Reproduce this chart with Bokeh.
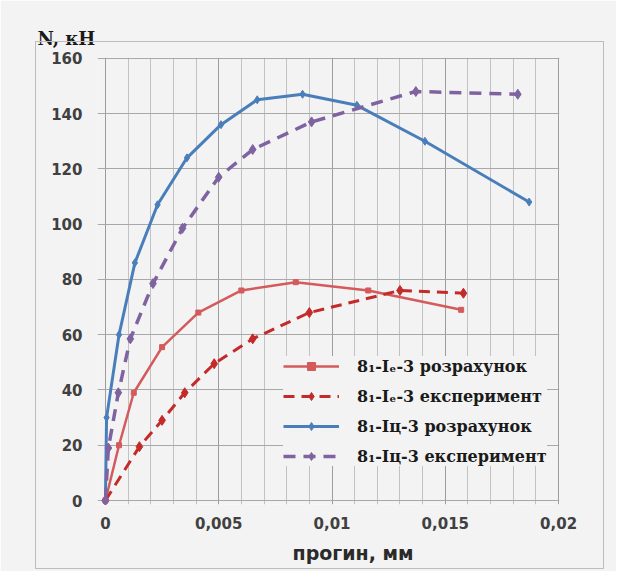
from bokeh.plotting import figure
from bokeh.models import (Range1d, FixedTicker, Legend, LegendItem, InlineStyleSheet,
                          Title, CustomJSTickFormatter)
from bokeh.embed import file_html
from bokeh.resources import INLINE

# ---- data ----
calc_e_x = [0, 0.0006, 0.00125, 0.0025, 0.0041, 0.006, 0.0084, 0.0116, 0.0157]
calc_e_n = [0, 20, 39, 55.5, 68, 76, 79, 76, 69]

exp_e_x = [0, 0.0015, 0.0025, 0.0035, 0.0048, 0.0065, 0.009, 0.013, 0.0158]
exp_e_n = [0, 19.5, 29, 39, 49.5, 58.5, 68, 76, 75]

calc_c_x = [0, 0.00005, 0.0006, 0.0013, 0.0023, 0.0036, 0.0051, 0.0067, 0.0087, 0.0111, 0.0141, 0.0187]
calc_c_n = [0, 30, 60, 86, 107, 124, 136, 145, 147, 143, 130, 108]

exp_c_x = [0, 0.00013, 0.00057, 0.0011, 0.0021, 0.0034, 0.005, 0.0065, 0.0091, 0.0137, 0.0182]
exp_c_n = [0, 19, 39, 58.5, 78.5, 98.5, 117, 127, 137, 148, 147]

x_ticks = [0, 0.005, 0.01, 0.015, 0.02]
x_minor = [0.001, 0.002, 0.003, 0.004, 0.006, 0.007, 0.008, 0.009, 0.011, 0.012,
           0.013, 0.014, 0.016, 0.017, 0.018, 0.019]
y_ticks = [0, 20, 40, 60, 80, 100, 120, 140, 160]

labels = ["8\u2081-I\u2091-3 розрахунок", "8\u2081-I\u2091-3 експеримент",
          "8\u2081-Iц-3 розрахунок", "8\u2081-Iц-3 експеримент"]
y_title = "N, кН"
x_title = "прогин, мм"

BG = "#f3f3f3"

p = figure(width=616, height=571, output_backend="svg", toolbar_location=None,
           x_range=Range1d(-0.00035, 0.02004), y_range=Range1d(-1.44, 160.3),
           min_border_left=97, min_border_right=57, min_border_top=57, min_border_bottom=66,
           background_fill_color=BG, border_fill_color=BG)
p.outline_line_color = None

# outer chart-area frame line (pure decoration via CSS)
p.stylesheets = [InlineStyleSheet(css="""
:host { position: relative; }
:host::after {
  content: ""; position: absolute; left: 35px; top: 41px; width: 569px; height: 528px;
  border: 1.5px solid #bdbdbd; pointer-events: none; box-sizing: border-box;
}
""")]

# axes (the zero grid lines act as axis lines)
for ax in (p.xaxis, p.yaxis):
    ax.axis_line_color = None
    ax.major_tick_line_color = None
    ax.minor_tick_line_color = None
    ax.major_label_text_font = "DejaVu Sans"
    ax.major_label_text_font_style = "bold"
    ax.major_label_text_font_size = "15px"
    ax.major_label_text_color = "#404040"

p.xaxis.ticker = FixedTicker(ticks=x_ticks, minor_ticks=x_minor)
p.yaxis.ticker = FixedTicker(ticks=y_ticks)
p.xaxis.formatter = CustomJSTickFormatter(
    code="return tick.toFixed(3).replace(/\\.?0+$/, '').replace('.', ',');")
p.xaxis.major_label_standoff = 6
p.yaxis.major_label_standoff = 9

p.xgrid.grid_line_color = "#9c9c9c"
p.xgrid.minor_grid_line_color = "#c2c2c2"
p.ygrid.grid_line_color = "#a8a8a8"

# series
RED_C = "#d45a5c"
RED_E = "#c42a2a"
BLUE = "#4a7ebb"
PURP = "#7f63a1"

l1 = p.line(calc_e_x, calc_e_n, line_color=RED_C, line_width=2.5)
m1 = p.scatter(calc_e_x, calc_e_n, marker="square", size=5, color=RED_C)
l2 = p.line(exp_e_x, exp_e_n, line_color=RED_E, line_width=3, line_dash="11 7")
m2 = p.scatter(exp_e_x, exp_e_n, marker="diamond", size=10, color=RED_E)
l3 = p.line(calc_c_x, calc_c_n, line_color=BLUE, line_width=3)
m3 = p.scatter(calc_c_x, calc_c_n, marker="diamond", size=8, color=BLUE)
l4 = p.line(exp_c_x, exp_c_n, line_color=PURP, line_width=3.5, line_dash="12 8")
m4 = p.scatter(exp_c_x, exp_c_n, marker="diamond", size=10, color=PURP)

legend = Legend(items=[LegendItem(label=labels[0], renderers=[l1, m1]),
                       LegendItem(label=labels[1], renderers=[l2, m2]),
                       LegendItem(label=labels[2], renderers=[l3, m3]),
                       LegendItem(label=labels[3], renderers=[l4, m4])],
                location=(186, 38), glyph_width=56, glyph_height=20, label_height=20,
                spacing=10, padding=8, margin=0, label_standoff=18,
                label_text_font="DejaVu Serif", label_text_font_style="bold",
                label_text_font_size="16px", label_text_color="#1a1a1a",
                background_fill_color=BG, background_fill_alpha=1.0,
                border_line_color=None)
p.add_layout(legend, "center")

p.add_layout(Title(text=y_title, align="left", offset=-60, standoff=17,
                   text_font="DejaVu Serif", text_font_style="bold", text_font_size="18px",
                   text_color="#1a1a1a"), "above")
p.add_layout(Title(text=x_title, align="left", offset=195, standoff=16,
                   text_font="DejaVu Sans", text_font_style="bold", text_font_size="19px",
                   text_color="#2a2a2a"), "below")

open("out.html", "w").write(file_html(p, INLINE))
